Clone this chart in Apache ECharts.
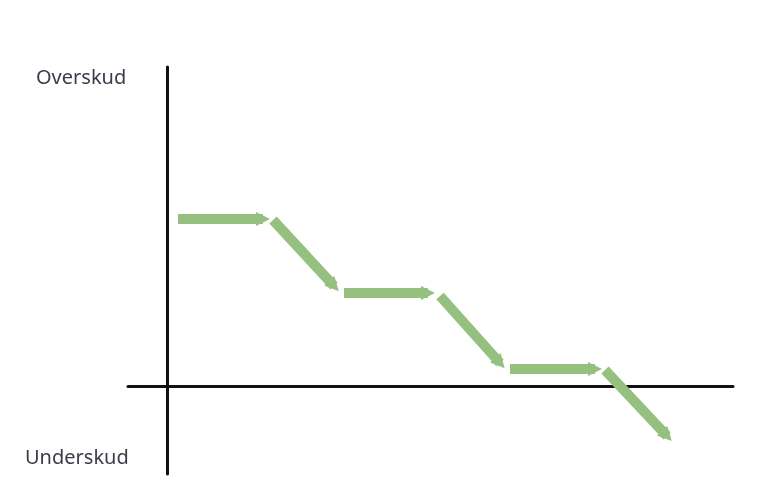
<!DOCTYPE html>
<html>
<head>
<meta charset="utf-8">
<script src="https://cdn.jsdelivr.net/npm/echarts@6/dist/echarts.min.js"></script>
<style>
html,body{margin:0;padding:0;background:#fff;}
#chart{width:768px;height:503px;}
</style>
</head>
<body>
<div id="chart"></div>
<script>
// Arrow segments (start and end points, in chart units: x = time, y = result)
const startX = [11, 106, 177, 273, 343, 438];
const startY = [167, 166, 93, 90, 17, 16];
const endX   = [96, 167, 261, 333, 428, 500];
const endY   = [167, 100, 93, 23, 17, -50];
const axisLabels = ['Overskud', 'Underskud'];

const segments = startX.map((x, i) => ({ coords: [[x, startY[i]], [endX[i], endY[i]]] }));

const chart = echarts.init(document.getElementById('chart'));
chart.setOption({
  animation: false,
  grid: { left: 128, right: 35, top: 67, bottom: 29 },
  xAxis: {
    type: 'value', min: -39, max: 566,
    axisLine: { onZero: true, lineStyle: { color: '#111', width: 3 } },
    axisTick: { show: false }, axisLabel: { show: false }, splitLine: { show: false }
  },
  yAxis: {
    type: 'value', min: -88, max: 319,
    axisLine: { show: true, onZero: true, lineStyle: { color: '#111', width: 3 } },
    axisTick: { show: false }, axisLabel: { show: false }, splitLine: { show: false }
  },
  graphic: [
    { type: 'text', left: 36, top: 68, style: { text: axisLabels[0], font: '20px "Noto Sans", sans-serif', fill: '#3b3b4a' } },
    { type: 'text', left: 25, top: 448, style: { text: axisLabels[1], font: '20px "Noto Sans", sans-serif', fill: '#3b3b4a' } }
  ],
  series: [{
    type: 'lines',
    coordinateSystem: 'cartesian2d',
    symbol: ['none', 'triangle'],
    symbolSize: [20, 14],
    lineStyle: { color: '#95c07f', width: 10, opacity: 1, curveness: 0, cap: 'butt' },
    itemStyle: { color: '#95c07f' },
    data: segments
  }]
});
</script>
</body>
</html>
